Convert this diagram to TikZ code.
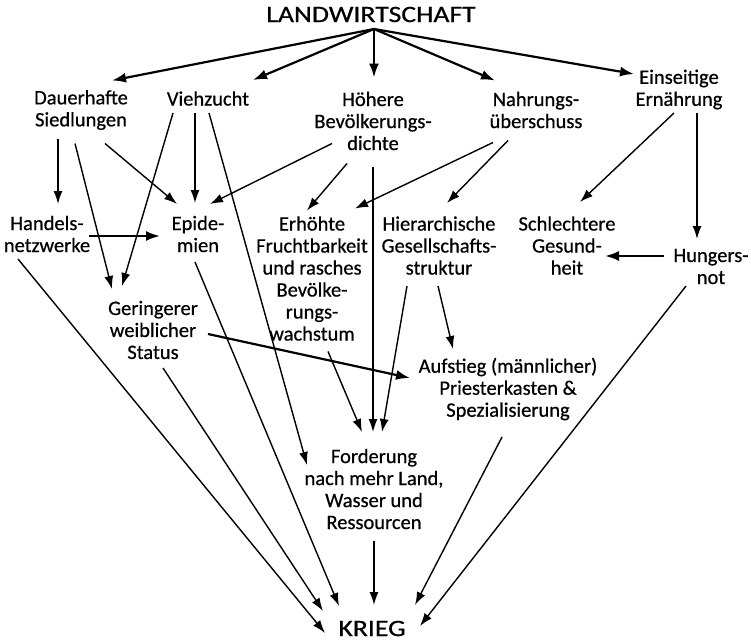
\documentclass[tikz,border=0pt]{standalone}
\usepackage{fontspec}
\usepackage{graphicx}
\newfontfamily\bodyfont{Carlito}[FakeBold=0.6]
\usetikzlibrary{arrows.meta}
\begin{document}
\begin{tikzpicture}[x=1pt,y=-1pt,
  txt/.style={align=center,font=\bodyfont\fontsize{20.5}{22}\selectfont,inner sep=0pt},
  big/.style={align=center,font=\bodyfont\fontsize{23.5}{26}\selectfont,inner sep=0pt},
  arr/.style={line width=1.4pt,-{Latex[length=13pt,width=9pt]}},
  thickarr/.style={line width=2.2pt,-{Latex[length=14pt,width=10pt]}}]
\useasboundingbox (0,0) rectangle (751,642);
% nodes
\node[big] (lw) at (371,14.5) {\scalebox{1.18}[1]{LANDWIRTSCHAFT}};
\node[txt] (dau) at (81,110) {Dauerhafte\\Siedlungen};
\node[txt] (vie) at (208,98.5) {Viehzucht};
\node[txt] (hoe) at (373,121) {Höhere\\Bevölkerungs-\\dichte};
\node[txt] (nah) at (536,110) {Nahrungs-\\überschuss};
\node[txt] (ein) at (679,89.5) {Einseitige\\Ernährung};
\node[txt] (han) at (47,234) {Handels-\\netzwerke};
\node[txt] (epi) at (198,234) {Epide-\\mien};
\node[txt] (erh) at (312,278.5) {Erhöhte\\Fruchtbarkeit\\und rasches\\Bevölke-\\rungs-\\wachstum};
\node[txt] (hie) at (439,245.5) {Hierarchische\\Gesellschafts-\\struktur};
\node[txt] (sch) at (567,245.5) {Schlechtere\\Gesund-\\heit};
\node[txt] (hun) at (711,266.5) {Hungers-\\not};
\node[txt] (ger) at (153,330) {Geringerer\\weiblicher\\Status};
\node[txt] (auf) at (508,389) {Aufstieg (männlicher)\\Priesterkasten \&\\Spezialisierung};
\node[txt] (for) at (374,489) {Forderung\\nach mehr Land,\\Wasser und\\Ressourcen};
\node[big] (kri) at (372,628.5) {\scalebox{1.18}[1]{KRIEG}};
% from Landwirtschaft
\draw[thickarr] ([shift={(3,14.5)}]lw.center) -- ([shift={(31,-29.5)}]dau.center);
\draw[thickarr] ([shift={(3,14.5)}]lw.center) -- ([shift={(45,-18.5)}]vie.center);
\draw[thickarr] ([shift={(3,14.5)}]lw.center) -- ([shift={(1,-43.5)}]hoe.center);
\draw[thickarr] ([shift={(3,14.5)}]lw.center) -- ([shift={(-41,-29.5)}]nah.center);
\draw[thickarr] ([shift={(3,14.5)}]lw.center) -- ([shift={(-45,-15.5)}]ein.center);
% second level
\draw[arr] ([shift={(-23,28.5)}]dau.center) -- ([shift={(11,-30)}]han.center);
\draw[arr] ([shift={(-6,33.5)}]dau.center) -- ([shift={(-41,-41)}]ger.center);
\draw[arr] ([shift={(24,33.5)}]dau.center) -- ([shift={(-21,-30)}]epi.center);
\draw[arr] ([shift={(-35,14.5)}]vie.center) -- ([shift={(-31,-44)}]ger.center);
\draw[arr] ([shift={(-13,14.5)}]vie.center) -- ([shift={(-3,-31)}]epi.center);
\draw[arr] ([shift={(1,14.5)}]vie.center) -- ([shift={(-67,-24)}]for.center);
\draw[arr] ([shift={(-41,22.5)}]hoe.center) -- ([shift={(12,-30)}]epi.center);
\draw[arr] ([shift={(-26,42.5)}]hoe.center) -- ([shift={(-5,-68)}]erh.center);
\draw[arr] ([shift={(0,45.5)}]hoe.center) -- ([shift={(-1,-57)}]for.center);
\draw[arr] ([shift={(-43,32.5)}]nah.center) -- ([shift={(43,-70)}]erh.center);
\draw[arr] ([shift={(-28,30.5)}]nah.center) -- ([shift={(8,-42.5)}]hie.center);
\draw[arr] ([shift={(-5,23.5)}]ein.center) -- ([shift={(13,-43.5)}]sch.center);
\draw[arr] ([shift={(18,23.5)}]ein.center) -- ([shift={(-14,-27.5)}]hun.center);
\draw[thickarr] ([shift={(42,2)}]han.center) -- ([shift={(-38,2)}]epi.center);
\draw[thickarr] ([shift={(-47,-10.5)}]hun.center) -- ([shift={(38,10.5)}]sch.center);
\draw[arr] ([shift={(16,73)}]erh.center) -- ([shift={(-12,-57)}]for.center);
\draw[arr] ([shift={(-32,40.5)}]hie.center) -- ([shift={(8,-57)}]for.center);
\draw[arr] ([shift={(-1,40.5)}]hie.center) -- ([shift={(-55,-40)}]auf.center);
\draw[thickarr] ([shift={(55,4)}]ger.center) -- ([shift={(-98,-11)}]auf.center);
% into Krieg
\draw[arr] ([shift={(-25,19.5)}]hun.center) -- ([shift={(48,-2.5)}]kri.center);
\draw[arr] ([shift={(-6,48)}]auf.center) -- ([shift={(43,-23.5)}]kri.center);
\draw[arr] ([shift={(0,52)}]for.center) -- ([shift={(2,-23.5)}]kri.center);
\draw[arr] ([shift={(-29,25)}]han.center) -- ([shift={(-47,4.5)}]kri.center);
\draw[arr] ([shift={(10,38)}]ger.center) -- ([shift={(-49,-17.5)}]kri.center);
\draw[arr] ([shift={(-3,28)}]epi.center) -- ([shift={(-33,-22.5)}]kri.center);
\end{tikzpicture}
\end{document}
